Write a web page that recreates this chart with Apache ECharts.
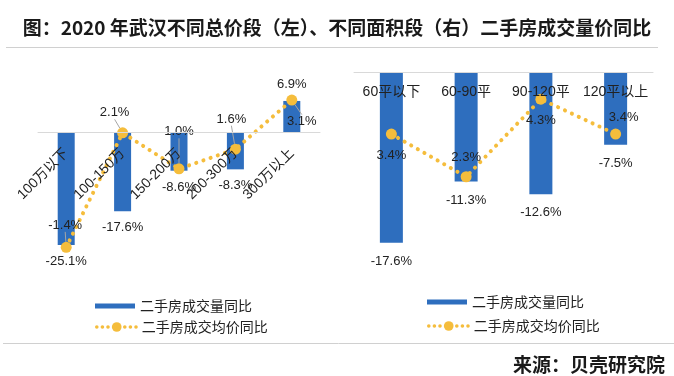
<!DOCTYPE html>
<html>
<head>
<meta charset="utf-8">
<title>武汉二手房成交量价同比</title>
<script src="https://cdn.jsdelivr.net/npm/echarts@6/dist/echarts.min.js"></script>
<style>
  html, body { margin: 0; padding: 0; background: #fff; }
  #main { width: 674px; height: 376px; }
</style>
</head>
<body>
<div id="main"></div>
<script>
// 左：不同总价段
const priceCategories = ['100万以下', '100-150万', '150-200万', '200-300万', '300万以上'];
const priceVolume = [-25.1, -17.6, -8.6, -8.3, 6.9];
const priceAvg = [-1.4, 2.1, 1.0, 1.6, 3.1];
// 右：不同面积段
const areaCategories = ['60平以下', '60-90平', '90-120平', '120平以上'];
const areaVolume = [-17.6, -11.3, -12.6, -7.5];
const areaAvg = [3.4, 2.3, 4.3, 3.4];

const volumeName = '二手房成交量同比';
const avgName = '二手房成交均价同比';

const blue = '#2e6ebe';
const gold = '#f5bd3c';
const axisGray = '#d9d9d9';
const textColor = '#222';
const font = "'Liberation Sans', 'Noto Sans CJK SC', sans-serif";

// 折线标签的偏移 [dx, dy]
const priceAvgShift = [[-1, -22], [-8, -20], [0, -37], [-4, -30], [10, 21]];
const areaAvgShift = [[0, 21], [0, -19], [0, 21], [8, -17]];

const pct = p => Number(p.value).toFixed(1) + '%';

function barData(values) {
  return values.map(v => ({
    value: v,
    label: { position: v < 0 ? 'bottom' : 'top' }
  }));
}

// 类目轴画在 0 值处（左图靠 offset 上移，右图放在顶部、标签朝内）
function xAxisOf(gridIndex, data, extra, label) {
  return Object.assign({
    type: 'category',
    gridIndex,
    data,
    z: 10,
    axisLine: { onZero: false, lineStyle: { color: axisGray, width: 1 } },
    axisTick: { show: false },
    axisLabel: Object.assign({ interval: 0, fontSize: 14, color: textColor, fontFamily: font }, label)
  }, extra);
}

function lineSeries(xi, yi, data, shift, guide) {
  return {
    name: avgName,
    type: 'line',
    xAxisIndex: xi,
    yAxisIndex: yi,
    data,
    symbol: 'circle',
    symbolSize: 11,
    itemStyle: { color: gold },
    lineStyle: { color: gold, width: 4, type: [0.1, 7.5], cap: 'round' },
    label: { show: true, position: 'inside', formatter: pct, fontSize: 13, color: textColor, fontFamily: font },
    labelLayout: p => ({ dx: shift[p.dataIndex][0], dy: shift[p.dataIndex][1] }),
    labelLine: { show: guide, lineStyle: { color: '#a6a6a6', width: 1 } },
    z: 3
  };
}

const legendText = { fontSize: 14, color: textColor, fontFamily: 'Noto Sans CJK SC' };
const barLegend = { icon: 'rect', itemWidth: 40, itemHeight: 5, textStyle: legendText };
const lineLegend = {
  itemWidth: 40,
  itemHeight: 12,
  lineStyle: { width: 3.5, type: [0.1, 5.5], cap: 'round' },
  textStyle: legendText
};

const myChart = echarts.init(document.getElementById('main'));
myChart.setOption({
  backgroundColor: '#fff',
  animation: false,
  title: [
    {
      text: '图：2020 年武汉不同总价段（左）、不同面积段（右）二手房成交量价同比',
      left: 'center',
      top: 13,
      textStyle: { fontSize: 19, fontWeight: 'bold', color: '#1a1a1a', fontFamily: 'Noto Sans CJK SC' }
    },
    {
      text: '来源：贝壳研究院',
      right: 4,
      top: 350,
      textStyle: { fontSize: 19, fontWeight: 'bold', color: '#1a1a1a', fontFamily: 'Noto Sans CJK SC' }
    }
  ],
  graphic: [
    { type: 'line', shape: { x1: 6, y1: 47.5, x2: 658, y2: 47.5 }, style: { stroke: '#d0d0d0', lineWidth: 1 } },
    { type: 'line', shape: { x1: 3, y1: 343.5, x2: 674, y2: 343.5 }, style: { stroke: '#d0d0d0', lineWidth: 1 } }
  ],
  legend: [
    Object.assign({ data: [volumeName], left: 90, top: 294 }, barLegend),
    Object.assign({ data: [avgName], left: 90, top: 315 }, lineLegend),
    Object.assign({ data: [volumeName], left: 422, top: 290 }, barLegend),
    Object.assign({ data: [avgName], left: 422, top: 314 }, lineLegend)
  ],
  grid: [
    { left: 38, top: 87, width: 282, height: 180 },
    { left: 354, top: 72, width: 299, height: 194 }
  ],
  xAxis: [
    xAxisOf(0, priceCategories, { position: 'bottom', offset: -135 }, { rotate: 45, margin: 19 }),
    xAxisOf(1, areaCategories, { position: 'top' }, { inside: true, margin: 13 })
  ],
  yAxis: [
    { type: 'value', gridIndex: 0, min: -30, max: 10, show: false },
    { type: 'value', gridIndex: 0, min: -2, max: 3.5, show: false },
    { type: 'value', gridIndex: 1, min: -20, max: 0, show: false },
    { type: 'value', gridIndex: 1, min: 0, max: 5, show: false }
  ],
  series: [
    {
      name: volumeName,
      type: 'bar',
      xAxisIndex: 0,
      yAxisIndex: 0,
      barWidth: 17,
      itemStyle: { color: blue },
      label: { show: true, distance: 10, formatter: pct, fontSize: 13, color: textColor, fontFamily: font },
      data: barData(priceVolume)
    },
    lineSeries(0, 1, priceAvg, priceAvgShift, true),
    {
      name: volumeName,
      type: 'bar',
      xAxisIndex: 1,
      yAxisIndex: 2,
      barWidth: 23,
      itemStyle: { color: blue },
      label: { show: true, distance: 12, formatter: pct, fontSize: 13, color: textColor, fontFamily: font },
      data: barData(areaVolume)
    },
    lineSeries(1, 3, areaAvg, areaAvgShift, false)
  ]
});
</script>
</body>
</html>
